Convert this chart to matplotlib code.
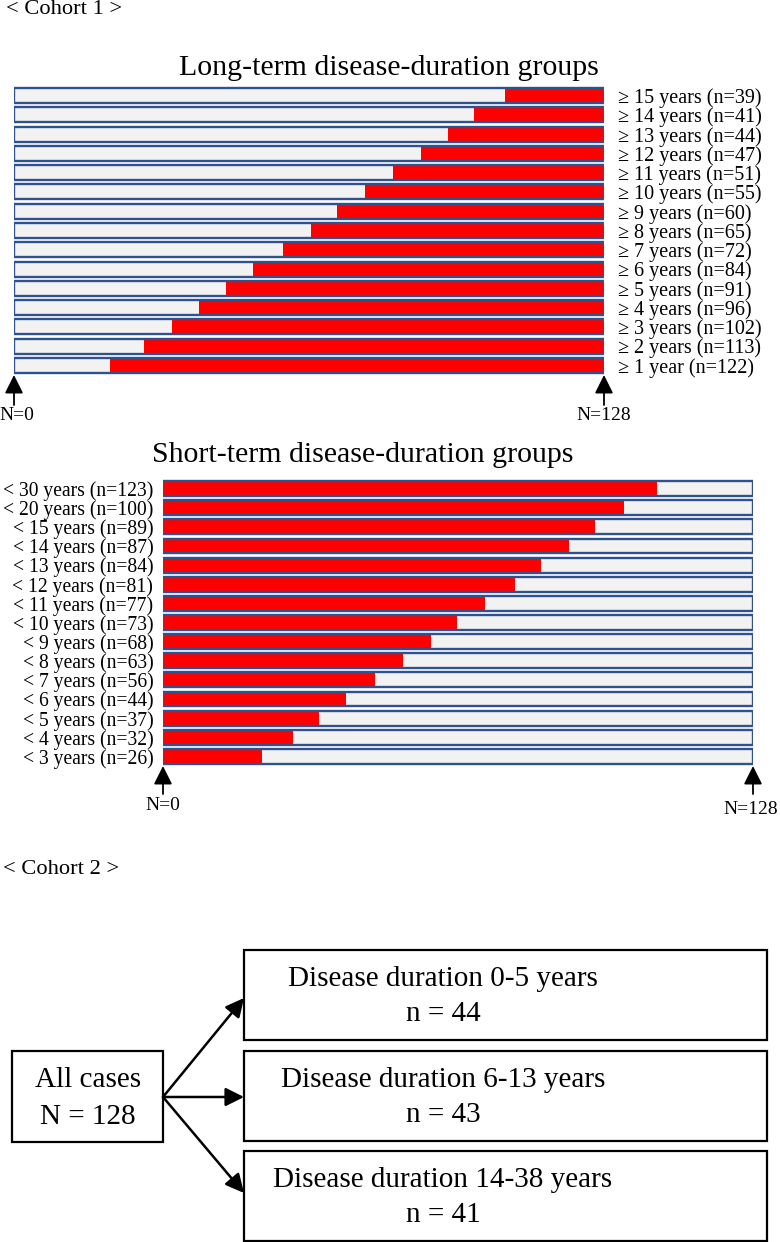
import matplotlib
matplotlib.use("Agg")
import matplotlib.pyplot as plt
from matplotlib.patches import Rectangle
import numpy as np

plt.rcParams['font.family'] = ['Liberation Serif', 'DejaVu Serif']

N_TOTAL = 128

# ---- Cohort 1: long-term groups (top to bottom) ----
long_labels = ["≥ 15 years (n=39)", "≥ 14 years (n=41)", "≥ 13 years (n=44)",
               "≥ 12 years (n=47)", "≥ 11 years (n=51)", "≥ 10 years (n=55)",
               "≥ 9 years (n=60)", "≥ 8 years (n=65)", "≥ 7 years (n=72)",
               "≥ 6 years (n=84)", "≥ 5 years (n=91)", "≥ 4 years (n=96)",
               "≥ 3 years (n=102)", "≥ 2 years (n=113)", "≥ 1 year (n=122)"]
# position (on 0-128 scale) where red segment starts (red runs to N=128)
long_red_start = [106.5, 99.9, 94.1, 88.3, 82.2, 76.1, 70.0, 64.4, 58.3,
                  51.9, 46.1, 40.1, 34.3, 28.1, 20.8]

# ---- Cohort 1: short-term groups (top to bottom) ----
short_labels = ["< 30 years (n=123)", "< 20 years (n=100)", "< 15 years (n=89)",
                "< 14 years (n=87)", "< 13 years (n=84)", "< 12 years (n=81)",
                "< 11 years (n=77)", "< 10 years (n=73)", "< 9 years (n=68)",
                "< 8 years (n=63)", "< 7 years (n=56)", "< 6 years (n=44)",
                "< 5 years (n=37)", "< 4 years (n=32)", "< 3 years (n=26)"]
# position (on 0-128 scale) where red segment ends (red runs from N=0)
short_red_end = [107.2, 100.0, 93.7, 88.1, 82.0, 76.4, 69.9, 63.8, 58.1,
                 52.1, 46.0, 39.7, 33.8, 28.1, 21.5]

# ---- Cohort 2 flowchart ----
all_text = ["All cases", "N = 128"]
group_titles = ["Disease duration 0-5 years", "Disease duration 6-13 years",
                "Disease duration 14-38 years"]
group_n = ["n = 44", "n = 43", "n = 41"]

EDGE = "#2F528F"
GRAY = "#F2F2F2"
RED = "#FF0000"

W, H = 780, 1242
fig = plt.figure(figsize=(W / 100, H / 100), dpi=100)

# overlay axes in pixel coordinates for free text & flowchart
ov = fig.add_axes([0, 0, 1, 1])
ov.set_xlim(0, W)
ov.set_ylim(H, 0)
ov.axis("off")


def px_axes(x0, y0, x1, y1):
    return fig.add_axes([x0 / W, 1 - y1 / H, (x1 - x0) / W, (y1 - y0) / H])


def draw_bars(ax, starts, ends):
    y = np.arange(len(starts))
    h = 0.78
    ax.barh(y, N_TOTAL, left=0, height=h, color=GRAY, edgecolor="none", zorder=1)
    ax.barh(y, np.array(ends) - np.array(starts), left=starts, height=h,
            color=RED, edgecolor="none", zorder=2)
    ax.barh(y, N_TOTAL, left=0, height=h, facecolor="none", edgecolor=EDGE,
            linewidth=1.7, zorder=3)
    ax.set_xlim(0, N_TOTAL)
    ax.set_ylim(len(starts) - 0.5, -0.5)
    for s in ax.spines.values():
        s.set_visible(False)
    ax.set_xticks([])
    ax.set_facecolor("none")


ARROW = "-|>,head_length=0.8,head_width=0.4"


def arrow_mark(ax, xval, label, base_off=-30, text_off=-40, dx=0):
    tr = ax.get_xaxis_transform()
    ax.annotate("", xy=(xval, 0), xycoords=tr, xytext=(0, base_off),
                textcoords="offset pixels", annotation_clip=False,
                arrowprops=dict(arrowstyle=ARROW, mutation_scale=14,
                                color="black", lw=1.3, shrinkA=0, shrinkB=0))
    ax.annotate(label, xy=(xval, 0), xycoords=tr, xytext=(dx, text_off),
                textcoords="offset pixels", ha="center", va="center",
                fontsize=14, annotation_clip=False)


# ---- Top panel ----
ax1 = px_axes(14, 86, 604, 375)
draw_bars(ax1, long_red_start, [N_TOTAL] * len(long_red_start))
ax1.yaxis.tick_right()
ax1.set_yticks(np.arange(len(long_labels)))
ax1.set_yticklabels(long_labels, fontsize=14.5)
ax1.tick_params(axis="y", length=0, pad=10)
arrow_mark(ax1, 0, "N=0", base_off=-30, text_off=-40, dx=3)
arrow_mark(ax1, N_TOTAL, "N=128", base_off=-30, text_off=-40)

# ---- Bottom panel ----
ax2 = px_axes(163, 479, 753, 766)
draw_bars(ax2, [0] * len(short_red_end), short_red_end)
ax2.set_yticks(np.arange(len(short_labels)))
ax2.set_yticklabels(short_labels, fontsize=14.1)
ax2.tick_params(axis="y", length=0, pad=7)
arrow_mark(ax2, 0, "N=0", base_off=-28, text_off=-40)
arrow_mark(ax2, N_TOTAL, "N=128", base_off=-28, text_off=-44, dx=-2)

# ---- Headings ----
ov.text(6, 10, "< Cohort 1 >", fontsize=16.2, ha="left", va="center")
ov.text(389, 68, "Long-term disease-duration groups", fontsize=21.5,
        ha="center", va="center")
ov.text(363, 455, "Short-term disease-duration groups", fontsize=21.5,
        ha="center", va="center")
ov.text(3, 870, "< Cohort 2 >", fontsize=16.2, ha="left", va="center")

# ---- Flowchart ----
lw_box = 1.6
ov.add_patch(Rectangle((12, 1051), 151, 91, fill=False, edgecolor="black", lw=lw_box))
ov.text(88, 1080, all_text[0], fontsize=21, ha="center", va="center")
ov.text(88, 1117, all_text[1], fontsize=21, ha="center", va="center")

box_tops = [950, 1051, 1151]
box_h = 90
targets = [998, 1097, 1193]
for top, t1, t2, ty in zip(box_tops, group_titles, group_n, targets):
    ov.add_patch(Rectangle((244, top), 523, box_h, fill=False,
                           edgecolor="black", lw=lw_box))
    ov.text(443, top + 29, t1, fontsize=21, ha="center", va="center")
    ov.text(443, top + 64, t2, fontsize=21, ha="center", va="center")
    ov.annotate("", xy=(244, ty), xytext=(163, 1097),
                arrowprops=dict(arrowstyle=ARROW, mutation_scale=14,
                                color="black", lw=1.8, shrinkA=0, shrinkB=0))

fig.savefig("out.png", dpi=100)
